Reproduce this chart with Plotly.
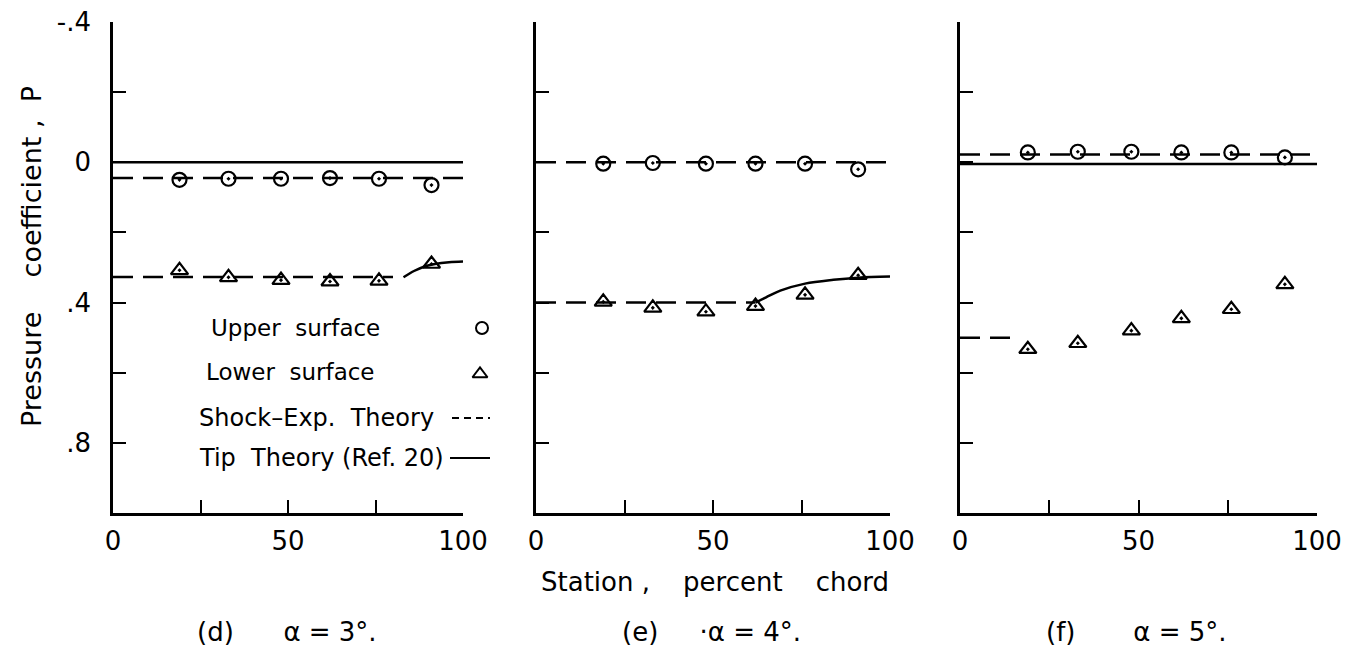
import plotly.graph_objects as go

# ---------------- data ----------------
stations = [19, 33, 48, 62, 76, 91]

d_upper = [0.05, 0.047, 0.047, 0.045, 0.047, 0.065]
d_lower = [0.308, 0.328, 0.336, 0.34, 0.338, 0.29]
e_upper = [0.004, 0.002, 0.004, 0.004, 0.004, 0.02]
e_lower = [0.398, 0.415, 0.426, 0.41, 0.378, 0.322]
f_upper = [-0.028, -0.03, -0.03, -0.028, -0.028, -0.014]
f_lower = [0.533, 0.516, 0.48, 0.445, 0.419, 0.348]

# theory lines
shock_upper = {"d": 0.045, "e": 0.0, "f": -0.022}
shock_lower_x = {"d": [0, 80], "e": [0, 62], "f": [0, 15]}
shock_lower_y = {"d": 0.327, "e": 0.40, "f": 0.50}
tip_upper = {"d": 0.0, "f": 0.005}
d_tip_x = [83, 86, 89, 92, 96, 100]
d_tip_y = [0.328, 0.31, 0.297, 0.29, 0.285, 0.283]
e_tip_x = [62, 65, 69, 76, 84, 91, 100]
e_tip_y = [0.40, 0.385, 0.366, 0.346, 0.335, 0.329, 0.326]

x_tickvals = [0, 25, 50, 75, 100]
x_ticktext = ["0", "", "50", "", "100"]
y_tickvals = [-0.4, -0.2, 0, 0.2, 0.4, 0.6, 0.8]
y_ticktext = ["-.4", "", "0", "", ".4", "", ".8"]

NB = "\u00a0"
captions = ["(d)" + NB * 6 + "α = 3°.",
            "(e)" + NB * 5 + "·α = 4°.",
            "(f)" + NB * 7 + "α = 5°."]
y_title = "Pressure" + NB * 4 + "coefficient" + NB + "," + NB * 2 + "P"
x_title = "Station" + NB + "," + NB * 4 + "percent" + NB * 4 + "chord"
legend_texts = ["Upper" + NB * 2 + "surface", "Lower" + NB * 2 + "surface",
                "Shock\u2013Exp." + NB * 2 + "Theory",
                "Tip" + NB * 2 + "Theory" + NB + "(Ref." + NB + "20)"]

FONT = "DejaVu Sans"
W, H = 1346, 659
x_domains = [[113 / W, 463 / W], [536 / W, 890 / W], [960 / W, 1317 / W]]
y_domain = [1 - 513 / H, 1 - 22 / H]

fig = go.Figure()

upper = {"d": d_upper, "e": e_upper, "f": f_upper}
lower = {"d": d_lower, "e": e_lower, "f": f_lower}
DASH = "20px,10px"
LW = 2.5

for i, p in enumerate(["d", "e", "f"]):
    xa = "x" if i == 0 else f"x{i+1}"
    ya = "y" if i == 0 else f"y{i+1}"
    fig.add_trace(go.Scatter(x=[0, 100], y=[shock_upper[p]] * 2, mode="lines",
                             line=dict(color="black", width=LW, dash=DASH),
                             xaxis=xa, yaxis=ya, showlegend=False, hoverinfo="skip"))
    if p in tip_upper:
        fig.add_trace(go.Scatter(x=[0, 100], y=[tip_upper[p]] * 2, mode="lines",
                                 line=dict(color="black", width=LW),
                                 xaxis=xa, yaxis=ya, showlegend=False, hoverinfo="skip"))
    fig.add_trace(go.Scatter(x=shock_lower_x[p], y=[shock_lower_y[p]] * 2, mode="lines",
                             line=dict(color="black", width=LW, dash=DASH),
                             xaxis=xa, yaxis=ya, showlegend=False, hoverinfo="skip"))
    if p == "d":
        fig.add_trace(go.Scatter(x=d_tip_x, y=d_tip_y, mode="lines", line_shape="spline",
                                 line=dict(color="black", width=LW),
                                 xaxis=xa, yaxis=ya, showlegend=False, hoverinfo="skip"))
    if p == "e":
        fig.add_trace(go.Scatter(x=e_tip_x, y=e_tip_y, mode="lines", line_shape="spline",
                                 line=dict(color="black", width=LW),
                                 xaxis=xa, yaxis=ya, showlegend=False, hoverinfo="skip"))
    fig.add_trace(go.Scatter(x=stations, y=upper[p], mode="markers",
                             marker=dict(symbol="circle-open-dot", size=14, color="black",
                                         line=dict(width=2.2, color="black")),
                             xaxis=xa, yaxis=ya, showlegend=False, cliponaxis=False))
    fig.add_trace(go.Scatter(x=stations, y=lower[p], mode="markers",
                             marker=dict(symbol="triangle-up-open-dot", size=15, color="black",
                                         line=dict(width=2.2, color="black")),
                             xaxis=xa, yaxis=ya, showlegend=False, cliponaxis=False))

# legend key marks on a hidden pixel-coordinate overlay axis (x4/y4)
key = dict(xaxis="x4", yaxis="y4", showlegend=False, hoverinfo="skip")
fig.add_trace(go.Scatter(x=[482], y=[328], mode="markers",
                         marker=dict(symbol="circle-open", size=12, color="black",
                                     line=dict(width=2, color="black")), **key))
fig.add_trace(go.Scatter(x=[480], y=[374], mode="markers",
                         marker=dict(symbol="triangle-up-open", size=13, color="black",
                                     line=dict(width=2, color="black")), **key))
fig.add_trace(go.Scatter(x=[452, 490], y=[418, 418], mode="lines",
                         line=dict(color="black", width=2, dash="7px,5px"), **key))
fig.add_trace(go.Scatter(x=[450, 490], y=[458, 458], mode="lines",
                         line=dict(color="black", width=2), **key))

axis_common = dict(showgrid=False, zeroline=False, showline=True, linecolor="black",
                   linewidth=2.5, ticks="inside", ticklen=13, tickwidth=2, tickcolor="black",
                   mirror=False, automargin=False,
                   tickfont=dict(family=FONT, size=26, color="black"))

layout = dict(width=W, height=H, margin=dict(l=0, r=0, t=0, b=0, autoexpand=False),
              paper_bgcolor="white", plot_bgcolor="rgba(0,0,0,0)", showlegend=False)
for i in range(3):
    xk = "xaxis" if i == 0 else f"xaxis{i+1}"
    yk = "yaxis" if i == 0 else f"yaxis{i+1}"
    anchor_x = "y" if i == 0 else f"y{i+1}"
    anchor_y = "x" if i == 0 else f"x{i+1}"
    layout[xk] = dict(axis_common, domain=x_domains[i], range=[0, 100], anchor=anchor_x,
                      tickvals=x_tickvals, ticktext=x_ticktext, ticklabelstandoff=3)
    layout[yk] = dict(axis_common, domain=y_domain, range=[1.0, -0.4], anchor=anchor_y,
                      tickvals=y_tickvals, ticktext=y_ticktext, showticklabels=(i == 0),
                      ticklabelstandoff=14)
layout["xaxis4"] = dict(domain=[0, 1], range=[0, W], visible=False, anchor="y4",
                        automargin=False, fixedrange=True)
layout["yaxis4"] = dict(domain=[0, 1], range=[H, 0], visible=False, anchor="x4",
                        automargin=False, fixedrange=True)
fig.update_layout(**layout)

ann = []
ann.append(dict(text=y_title, textangle=-90, x=31 / W, y=1 - 257 / H,
                xref="paper", yref="paper", xanchor="center", yanchor="middle",
                showarrow=False, font=dict(family=FONT, size=27, color="black")))
ann.append(dict(text=x_title, x=715 / W, y=1 - 582 / H, xref="paper", yref="paper",
                xanchor="center", yanchor="middle", showarrow=False,
                font=dict(family=FONT, size=26, color="black")))
for cx, txt in zip([287, 711, 1136], captions):
    ann.append(dict(text=txt, x=cx / W, y=1 - 632 / H, xref="paper", yref="paper",
                    xanchor="center", yanchor="middle", showarrow=False,
                    font=dict(family=FONT, size=26, color="black")))
leg_px = [(209, 328), (204, 372), (197, 418), (197, 458)]
leg_sizes = [23, 23, 24, 24]
for t, (px, py), fs in zip(legend_texts, leg_px, leg_sizes):
    ann.append(dict(text=t, x=px / W, y=1 - py / H, xref="paper", yref="paper",
                    xanchor="left", yanchor="middle", showarrow=False,
                    font=dict(family=FONT, size=fs, color="black")))
fig.update_layout(annotations=ann)

fig.write_html("out.html")
